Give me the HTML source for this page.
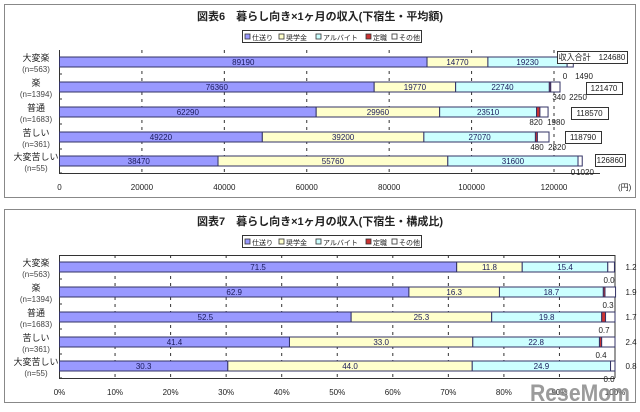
<!DOCTYPE html><html><head><meta charset="utf-8"><style>
body{margin:0;background:#fff;width:640px;height:412px;overflow:hidden}
svg{display:block;font-family:"Liberation Sans","Noto Sans CJK JP",sans-serif}
</style></head><body>
<svg id="s" width="640" height="412" xmlns="http://www.w3.org/2000/svg"></svg>
<script>
const s=document.getElementById('s');let h='';
const cols=['#9999ff','#ffffcc','#ccffff','#cc3333','#ffffff'];
const cats=[['大変楽','(n=563)'],['楽','(n=1394)'],['普通','(n=1683)'],['苦しい','(n=361)'],['大変苦しい','(n=55)']];
const barY=[57,82,107,132,156];
function frame(oy,title){
 h+=`<rect x="4.5" y="${oy+4.5}" width="631" height="193" fill="#fff" stroke="#888"/>`;
 h+=`<text x="320" y="${oy+20}" font-size="11" font-weight="bold" text-anchor="middle" fill="#222">${title}</text>`;
 h+=`<rect x="242.5" y="${oy+30.5}" width="179" height="12" fill="#fff" stroke="#333"/>`;
 const lg=[['仕送り',245],['奨学金',279],['アルバイト',316],['定職',366],['その他',392]];
 lg.forEach((l,i)=>{h+=`<rect x="${l[1]}" y="${oy+34}" width="5" height="5" fill="${cols[i]}" stroke="#333" stroke-width=".8"/><text x="${l[1]+7}" y="${oy+40}" font-size="7" fill="#222">${l[0]}</text>`});
 for(let i=0;i<5;i++){const y=oy+barY[i]+5;
  h+=`<text x="36" y="${y-1}" font-size="9" text-anchor="middle" fill="#222">${cats[i][0]}</text><text x="36" y="${y+10}" font-size="8" text-anchor="middle" fill="#444">${cats[i][1]}</text>`;}
 h+=`<line x1="59.5" y1="${oy+50}" x2="59.5" y2="${oy+173.5}" stroke="#333"/><line x1="59" y1="${oy+173.5}" x2="${oy?615:600}" y2="${oy+173.5}" stroke="#333"/>`;
 for(let i=0;i<5;i++){h+=`<line x1="59" y1="${oy+barY[i]+17}" x2="62" y2="${oy+barY[i]+17}" stroke="#333"/>`}
}
function bars(oy,data,sc,labels){
 data.forEach((d,i)=>{let x=59.5;const y=oy+barY[i];
  d.forEach((v,j)=>{const w=v*sc; if(w>0)h+=`<rect x="${x}" y="${y}" width="${w}" height="10" fill="${cols[j]}" stroke="#333366" stroke-width="1"/>`;
   if(j<3)h+=`<text x="${x+w/2}" y="${y+8}" font-size="8" text-anchor="middle" fill="#1a1a5a">${labels[i][j]}</text>`; x+=w;});
 });
}
frame(0,'図表6　暮らし向き×1ヶ月の収入(下宿生・平均額)');
const sc1=(554-59.5)/120000;
for(let k=1;k<=6;k++){const x=59.5+k*20000*sc1;h+=`<line x1="${x}" y1="50" x2="${x}" y2="173" stroke="#333" stroke-dasharray="3,4"/>`}
[0,20000,40000,60000,80000,100000,120000].forEach((v,k)=>{h+=`<text x="${59.5+v*sc1}" y="190" font-size="8" text-anchor="middle" fill="#222">${v}</text>`});
h+=`<text x="618" y="190" font-size="8" fill="#222">(円)</text>`;
const d1=[[89190,14770,19230,0,1490],[76360,19770,22740,340,2250],[62290,29960,23510,820,1980],[49220,39200,27070,480,2820],[38470,55760,31600,0,1020]];
bars(0,d1,sc1,d1);
const tb=[[557,51,70,'収入合計　124680'],[586,82,36,'121470'],[571,107,37,'118570'],[565,131,36,'118790'],[595,154,30,'126860']];
tb.forEach(t=>{h+=`<rect x="${t[0]+.5}" y="${t[1]+.5}" width="${t[2]}" height="12" fill="#fff" stroke="#333"/><text x="${t[0]+t[2]/2}" y="${t[1]+9}" font-size="8" text-anchor="middle" fill="#222">${t[3]}</text>`});
const sub=[['0','1490',565,584,76],['340','2250',559,578,97],['820','1980',536,556,122],['480','2820',537,557,147],['0','1020',573,585,172]];
sub.forEach(t=>{h+=`<text x="${t[2]}" y="${t[4]+3}" font-size="8" text-anchor="middle" fill="#222">${t[0]}</text><text x="${t[3]}" y="${t[4]+3}" font-size="8" text-anchor="middle" fill="#222">${t[1]}</text>`});
const oy=205;
frame(oy,'図表7　暮らし向き×1ヶ月の収入(下宿生・構成比)');
const sc2=(615-59.5)/100;
h+=`<line x1="615" y1="${oy+50}" x2="615" y2="${oy+173}" stroke="#333"/><line x1="59" y1="${oy+50.5}" x2="615" y2="${oy+50.5}" stroke="#333"/>`;
for(let k=1;k<=9;k++){const x=59.5+k*10*sc2;h+=`<line x1="${x}" y1="${oy+50}" x2="${x}" y2="${oy+173}" stroke="#333" stroke-dasharray="3,4"/>`}
for(let k=0;k<=10;k++){h+=`<text x="${59.5+k*10*sc2}" y="${oy+190}" font-size="8" text-anchor="middle" fill="#222">${k*10}%</text>`}
const d2=[[71.5,11.8,15.4,0.0,1.2],[62.9,16.3,18.7,0.3,1.9],[52.5,25.3,19.8,0.7,1.7],[41.4,33.0,22.8,0.4,2.4],[30.3,44.0,24.9,0.0,0.8]];
const l2=d2.map(r=>r.map(v=>v.toFixed(1)));
bars(oy,d2,sc2,l2);
d2.forEach((r,i)=>{const y=oy+barY[i];h+=`<text x="631" y="${y+8}" font-size="8" text-anchor="middle" fill="#222">${l2[i][4]}</text><text x="${[609,608,604,601,609][i]}" y="${y+21}" font-size="8" text-anchor="middle" fill="#222">${l2[i][3]}</text>`});
h+=`<text x="580" y="${oy+196}" font-size="24" font-weight="bold" text-anchor="middle" fill="#8a8a8a" opacity=".85" textLength="100" lengthAdjust="spacingAndGlyphs">ReseMom</text>`;
s.innerHTML=h;
</script>
</body></html>
